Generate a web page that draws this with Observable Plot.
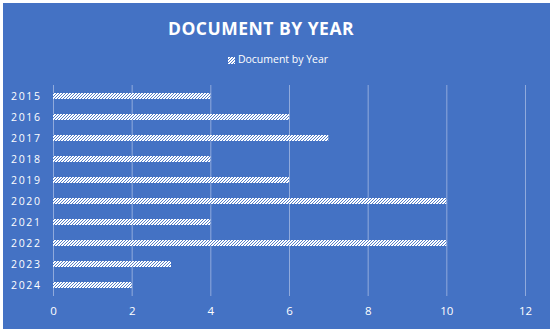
<!DOCTYPE html>
<html>
<head>
<meta charset="utf-8">
<script src="https://cdn.jsdelivr.net/npm/d3@7"></script>
<script src="https://cdn.jsdelivr.net/npm/@observablehq/plot@0.6"></script>
<style>
  html, body { margin: 0; padding: 0; background: #fff; }
  #wrap { position: relative; width: 550px; height: 333px; overflow: hidden; font-family: "Open Sans", "Noto Sans", sans-serif; }
  #bg { position: absolute; left: 3px; top: 3px; width: 547px; height: 326px; background: #4472C4; }
  #title { position: absolute; left: -14px; top: 16px; width: 550px; text-align: center; color: #fff; font-weight: bold; font-size: 17.5px; letter-spacing: 0.5px; }
  #legend { position: absolute; left: 3px; top: 52px; width: 550px; text-align: center; color: #fff; font-size: 10.5px; }
  #legend svg { vertical-align: -1px; margin-right: 3px; }
  #chart { position: absolute; left: 0; top: 0; }
</style>
</head>
<body>
<div id="wrap">
  <div id="bg"></div>
  <div id="title">DOCUMENT BY YEAR</div>
  <div id="legend"><svg width="7" height="7"><defs><pattern id="hatchL" patternUnits="userSpaceOnUse" width="3" height="3"><rect width="3" height="3" fill="#fff"/><path d="M-1,1 l2,-2 M0,3 l3,-3 M2,4 l2,-2" stroke="#4472C4" stroke-width="0.9"/></pattern></defs><rect width="7" height="7" fill="url(#hatchL)"/></svg><span>Document by Year</span></div>
  <div id="chart"></div>
</div>
<script>
const years = ["2015","2016","2017","2018","2019","2020","2021","2022","2023","2024"];
const counts = [4, 6, 7, 4, 6, 10, 4, 10, 3, 2];
const xTicks = [0, 2, 4, 6, 8, 10, 12];
const seriesName = "Document by Year";

const data = years.map((y, i) => ({year: y, count: counts[i]}));

const chart = Plot.plot({
  width: 550,
  height: 333,
  marginLeft: 53,
  marginRight: 25,
  marginTop: 85,
  marginBottom: 37,
  style: {background: "transparent", color: "#fff", fontFamily: "'Open Sans', 'Noto Sans', sans-serif", fontSize: "11.5px"},
  x: {domain: [0, 12], ticks: xTicks, label: null, tickSize: 0, tickPadding: 10},
  y: {domain: years, label: null, paddingInner: 0.71, paddingOuter: 0.355, tickSize: 0, tickPadding: 12},
  marks: [
    Plot.gridX(xTicks, {stroke: "#9db4e0", strokeOpacity: 0.85, strokeWidth: 1}),
    Plot.barX(data, {y: "year", x: "count", fill: "url(#hatch)"}),
    Plot.axisX({ticks: xTicks, tickSize: 0, tickPadding: 10, fontSize: 11.5}),
    Plot.axisY({tickSize: 0, tickPadding: 12, fontSize: 10.5})
  ]
});

const svg = d3.select(chart);
const defs = svg.insert("defs", ":first-child");
const pat = defs.append("pattern").attr("id", "hatch").attr("patternUnits", "userSpaceOnUse").attr("width", 3).attr("height", 3);
pat.append("rect").attr("width", 3).attr("height", 3).attr("fill", "#fff");
pat.append("path").attr("d", "M-1,1 l2,-2 M0,3 l3,-3 M2,4 l2,-2").attr("stroke", "#4472C4").attr("stroke-width", 0.9);
svg.selectAll('g[aria-label="y-axis tick label"] text').style("letter-spacing", "1.6px");

document.getElementById("chart").appendChild(chart);
</script>
</body>
</html>
